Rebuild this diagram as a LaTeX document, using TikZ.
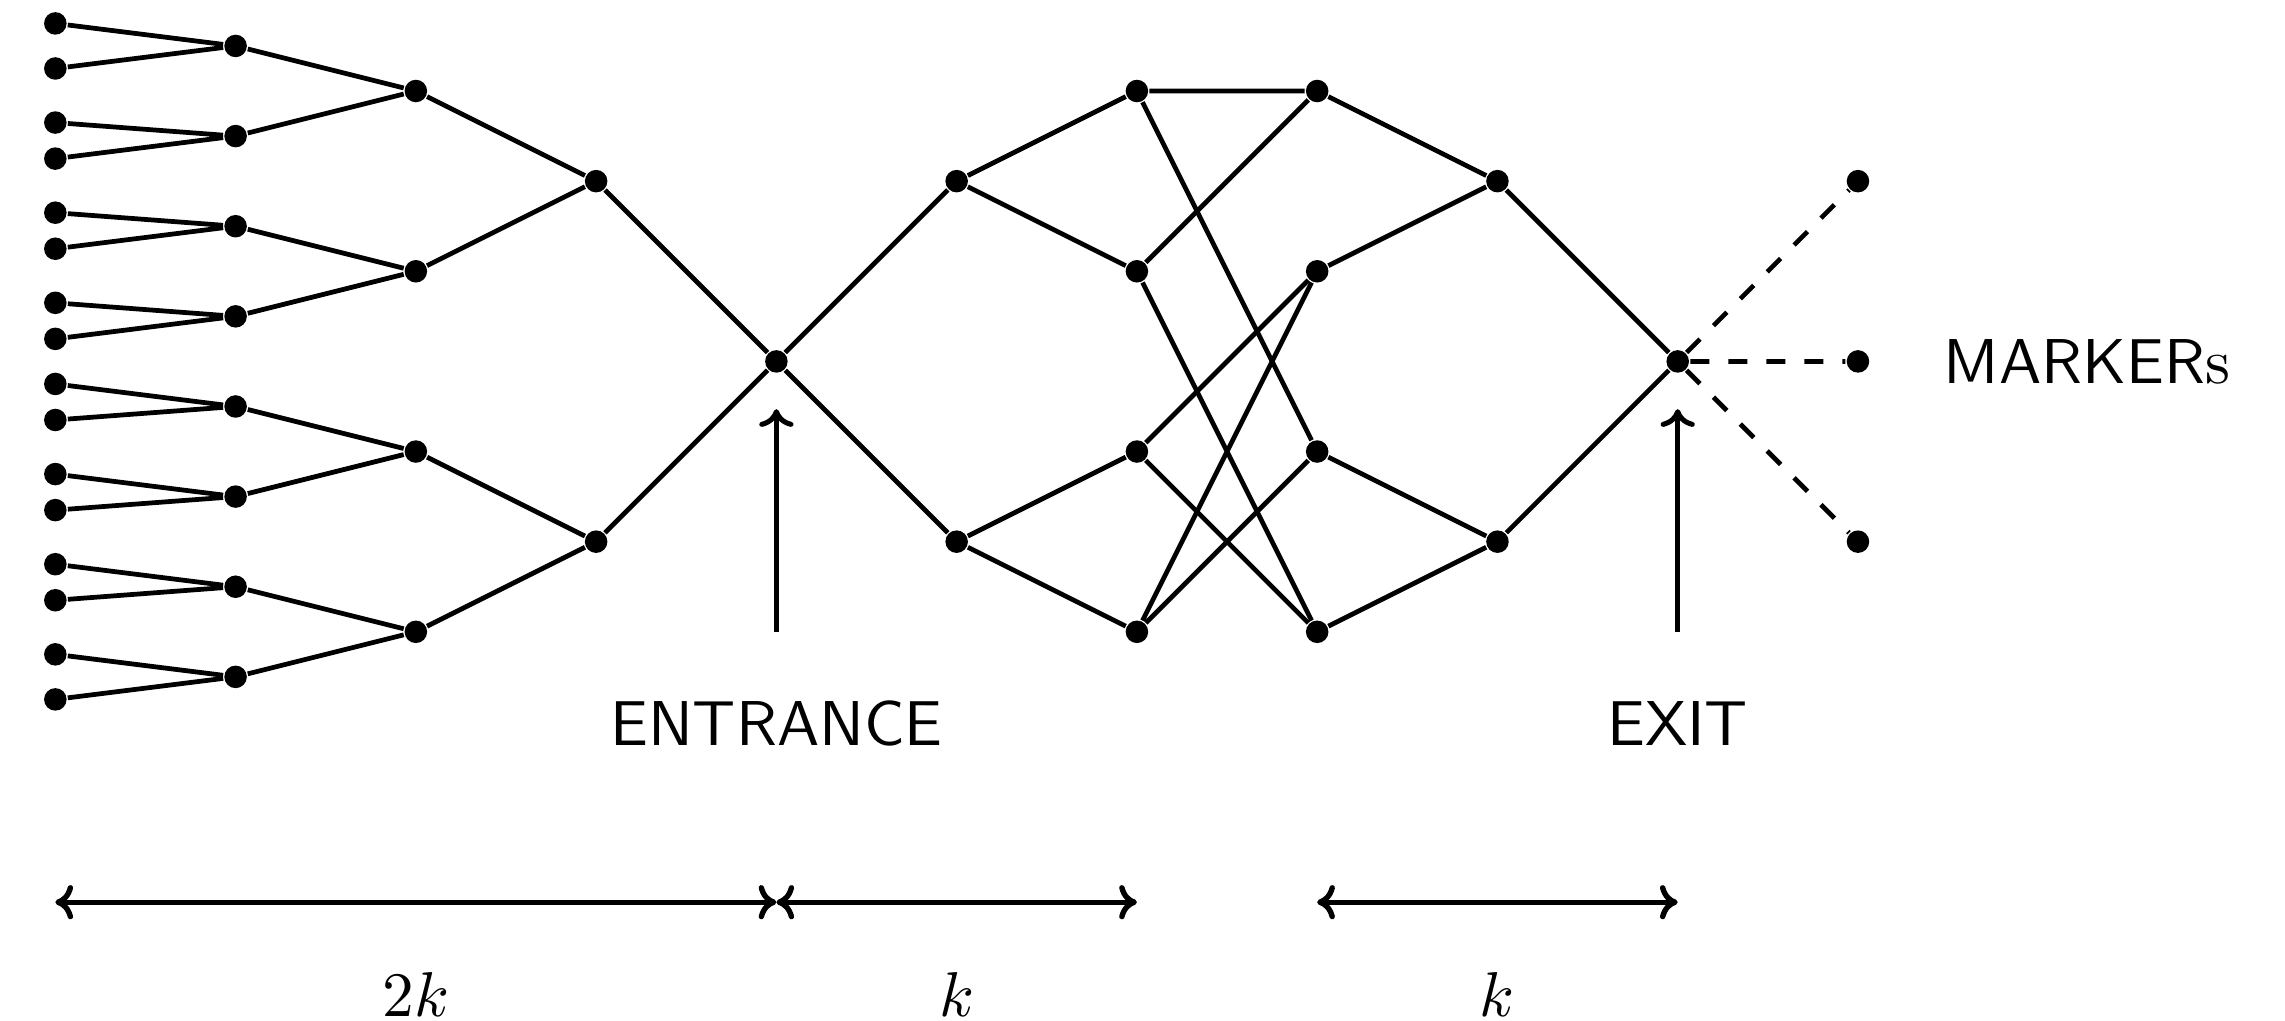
\documentclass[tikz,border=0pt]{standalone}
\usetikzlibrary{arrows.meta}
\begin{document}
\begin{tikzpicture}[
  dot/.style={circle,fill=black,inner sep=0pt,minimum size=0.125cm},
  edge/.style={line width=0.75pt},
  cmtip/.style={line width=0.8pt,-{Computer Modern Rightarrow[length=2.8pt,width=5.4pt]}},
  dimline/.style={line width=0.85pt,{Computer Modern Rightarrow[length=2.8pt,width=5.4pt]}-{Computer Modern Rightarrow[length=2.8pt,width=5.4pt]}},
  lbl/.style={font=\sffamily,inner sep=0pt},
  mlbl/.style={inner sep=0pt}
]
\useasboundingbox (-0.307,-3.654) rectangle (12.369,2.005);
% leaves
\foreach \y [count=\i] in {1.875,1.625,1.325,1.125,0.825,0.625,0.325,0.125,-0.125,-0.325,-0.625,-0.825,-1.125,-1.325,-1.625,-1.875}
  \node[dot] (l\i) at (0,\y) {};
\foreach \y [count=\i] in {1.75,1.25,0.75,0.25,-0.25,-0.75,-1.25,-1.75}
  \node[dot] (a\i) at (1,\y) {};
\foreach \y [count=\i] in {1.5,0.5,-0.5,-1.5}
  \node[dot] (b\i) at (2,\y) {};
\node[dot] (c1) at (3,1) {};
\node[dot] (c2) at (3,-1) {};
\node[dot] (E) at (4,0) {};
\node[dot] (d1) at (5,1) {};
\node[dot] (d2) at (5,-1) {};
\foreach \y [count=\i] in {1.5,0.5,-0.5,-1.5}
  \node[dot] (f\i) at (6,\y) {};
\foreach \y [count=\i] in {1.5,0.5,-0.5,-1.5}
  \node[dot] (g\i) at (7,\y) {};
\node[dot] (h1) at (8,1) {};
\node[dot] (h2) at (8,-1) {};
\node[dot] (X) at (9,0) {};
\node[dot] (m1) at (10,1) {};
\node[dot] (m2) at (10,0) {};
\node[dot] (m3) at (10,-1) {};
% tree edges
\foreach \i in {1,...,8} {
  \pgfmathtruncatemacro\ja{2*\i-1}
  \pgfmathtruncatemacro\jb{2*\i}
  \draw[edge] (a\i) -- (l\ja) (a\i) -- (l\jb);
}
\foreach \i in {1,...,4} {
  \pgfmathtruncatemacro\ja{2*\i-1}
  \pgfmathtruncatemacro\jb{2*\i}
  \draw[edge] (b\i) -- (a\ja) (b\i) -- (a\jb);
}
\draw[edge] (c1) -- (b1) (c1) -- (b2) (c2) -- (b3) (c2) -- (b4);
\draw[edge] (E) -- (c1) (E) -- (c2);
% middle
\draw[edge] (E) -- (d1) (E) -- (d2);
\draw[edge] (d1) -- (f1) (d1) -- (f2) (d2) -- (f3) (d2) -- (f4);
\draw[edge] (f1) -- (g1) (f1) -- (g3);
\draw[edge] (f2) -- (g1) (f2) -- (g4);
\draw[edge] (f3) -- (g2) (f3) -- (g4);
\draw[edge] (f4) -- (g2) (f4) -- (g3);
\draw[edge] (g1) -- (h1) (g2) -- (h1) (g3) -- (h2) (g4) -- (h2);
\draw[edge] (h1) -- (X) (h2) -- (X);
\draw[edge,dashed] (X) -- (m1) (X) -- (m2) (X) -- (m3);
% labels and arrows
\node[lbl] (entr) at (4,-2.01) {ENTRANCE};
\node[lbl] (exit) at (9,-2.01) {EXIT};
\node[lbl,anchor=west] (mark) at (10.47,0) {MARKER\rmfamily s};
\coordinate (ea0) at (4,-1.5);
\coordinate (ea1) at (4,-0.265);
\coordinate (xa0) at (9,-1.5);
\coordinate (xa1) at (9,-0.265);
\draw[cmtip] (ea0) -- (ea1);
\draw[cmtip] (xa0) -- (xa1);
% dimension lines
\coordinate (p0) at (0,-3);
\coordinate (p4) at (4,-3);
\coordinate (p6) at (6,-3);
\coordinate (p7) at (7,-3);
\coordinate (p9) at (9,-3);
\draw[dimline] (p0) -- (p4);
\draw[dimline] (p4) -- (p6);
\draw[dimline] (p7) -- (p9);
\node[mlbl] (k2) at (2,-3.51) {$2k$};
\node[mlbl] (k1) at (5,-3.51) {$k$};
\node[mlbl] (k3) at (8,-3.51) {$k$};
\end{tikzpicture}
\end{document}
